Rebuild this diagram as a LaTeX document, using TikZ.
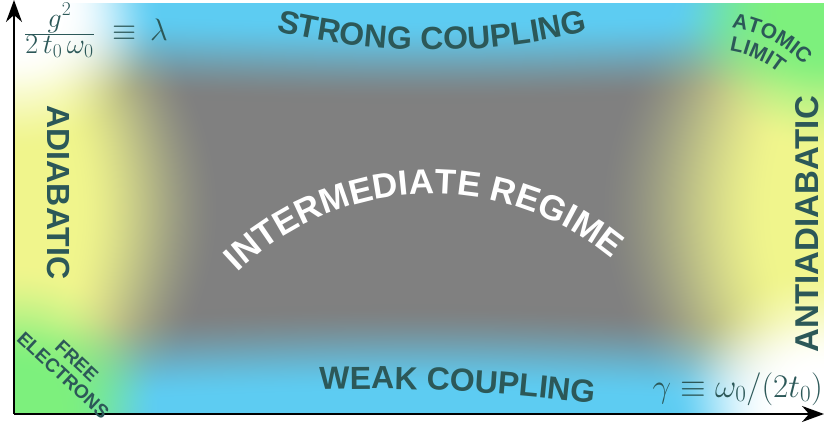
\RequirePackage{fix-cm}
\documentclass[tikz,border=0pt]{standalone}
\usepackage{fontspec}
\usetikzlibrary{decorations.text,arrows.meta}
\newfontfamily\labfam{Liberation Sans}
\definecolor{labcol}{RGB}{44,88,88}
\newcommand\fontA{\labfam\bfseries\fontsize{32}{32}\selectfont}
\newcommand\fontB{\labfam\bfseries\fontsize{35}{35}\selectfont}
\newcommand\fontC{\labfam\bfseries\fontsize{21}{21}\selectfont}
\def\SS{dup 0 lt {pop 0} if dup 1 gt {pop 1} if dup dup mul exch 2 mul 3 exch sub mul }
\pgfdeclarefunctionalshading{bgshade}{\pgfpoint{-25bp}{-25bp}}{\pgfpoint{25bp}{25bp}}{}{
25 exch sub 8.2 mul
exch 25 add 16.2 mul
2 copy
dup 810 exch sub 2 copy gt {exch} if pop
dup mul exch
dup 410 exch sub 2 copy gt {exch} if pop
dup mul add sqrt
150 exch sub 110 div \SS
3 1 roll
2 copy
810 div 0.5 sub exch 410 div 0.5 sub mul 8 mul 0.5 add
dup 0 lt {pop 0} if dup 1 gt {pop 1} if
3 1 roll
2 copy
0.22222 mul sin
dup 10 mul 90 add 2 index sub 85 div \SS
exch 15 mul 95 add 410 sub 2 index add 90 div \SS
add exch pop
3 1 roll
1 index 0.43902 mul sin
dup 70 mul 140 add 2 index sub 150 div \SS
exch 70 mul 160 add 810 sub 2 index add 180 div \SS add
3 1 roll pop pop
exch
2 copy mul
2 index 1 index sub
2 index 2 index sub
1 3 index sub 2 index sub 1 index sub
4 -1 roll exch
7 -1 roll
7 5 roll pop pop
5 -1 roll 1 6 index sub mul
5 -1 roll 1 6 index sub mul
5 -1 roll 1 6 index sub mul 5 index add
5 -1 roll 1 6 index sub mul
5 -1 roll
1 index 0.5 mul 5 index 0.94 mul add 4 index 0.365 mul add 1 index 0.51 mul 0.49 add 4 index mul add
2 index 0.5 mul 6 index 0.96 mul add 5 index 0.80 mul add 2 index 0.06 mul 0.94 add 5 index mul add
3 index 0.5 mul 7 index 0.55 mul add 6 index 0.95 mul add 3 index 0.51 mul 0.49 add 6 index mul add
8 3 roll pop pop pop pop pop
4 -1 roll pop
}
\tikzset{
  axisline/.style={line width=1.5pt, -{Stealth[length=22pt,width=16pt,inset=7pt]}},
  labnode/.style={inner sep=0pt, text=labcol},
  mathnode/.style={inner sep=0pt, text=labcol},
}
\begin{document}
\begin{tikzpicture}[x=1pt,y=1pt]
\useasboundingbox (0,0) rectangle (824,429);
% background
\shade[shading=bgshade] (14,15) rectangle (824,426);
% axes
\coordinate (O) at (14,15);
\coordinate (ytip) at (14,429);
\coordinate (xtip) at (824,15);
\draw[axisline] (O) -- (ytip);
\draw[axisline] (O) -- (xtip);
% formulas
\node[mathnode, anchor=base west, font={\fontsize{28}{28}\selectfont}] (frac) at (24,388)
  {$\frac{\displaystyle g^2\rule[-6pt]{0pt}{1pt}}{\displaystyle 2\,t_0\,\omega_0\rule{0pt}{19pt}}$};
\node[mathnode, anchor=base west, xshift=17pt, font={\fontsize{31}{31}\selectfont}] (lam) at (frac.base east)
  {$\equiv\,\lambda$};
\node[mathnode, anchor=base east, font={\fontsize{33}{33}\selectfont}] (gam) at (823,32)
  {$\gamma\equiv\omega_0/(2t_0)$};
% straight labels
\node[labnode, rotate=-90, font=\fontA] (adia) at (58.5,236.5) {ADIABATIC};
\node[labnode, rotate=90, font={\labfam\bfseries\fontsize{33}{33}\selectfont}] (anti) at (807,205) {ANTIADIABATIC};
\node[labnode, rotate=-43, align=center, font={\labfam\bfseries\fontsize{19}{20}\selectfont}] (free) at (70,61) {FREE\\ELECTRONS};
% curved labels
\path[decorate, decoration={text along path, text align=center, text color=labcol,
  text={|\fontA|STRONG COUPLING}}]
  (252,404) .. controls (372,370.7) and (492,370.7) .. (612,404);
\path[decorate, decoration={text along path, text align=center, text color=labcol,
  text={|\fontA|WEAK COUPLING}}]
  (300,38.6) .. controls (404.7,42.9) and (509.3,37.6) .. (614,22.7);
\path[decorate, decoration={text along path, text align=center, text color=white,
  text={|\fontB|INTERMEDIATE REGIME}}, shift={(432,-47)}]
  (148:282) arc[start angle=148, end angle=36, radius=282];
\path[decorate, decoration={text along path, text align=center, text color=labcol,
  text={|\fontC|ATOMIC}}, shift={(715,279)}]
  (108:123) arc[start angle=108, end angle=18, radius=123];
\path[decorate, decoration={text along path, text align=center, text color=labcol,
  text={|\fontC|LIMIT}}, shift={(715,279)}]
  (111:100) arc[start angle=111, end angle=21, radius=100];
\end{tikzpicture}
\end{document}
